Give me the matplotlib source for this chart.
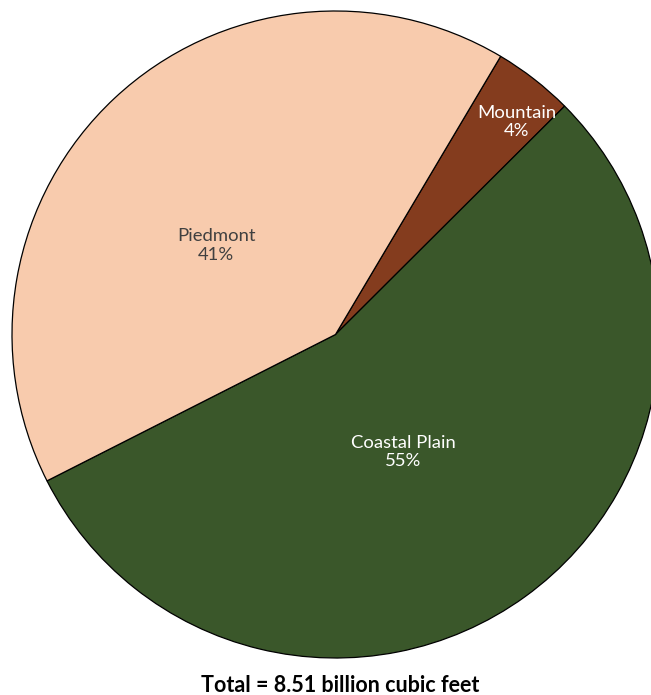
import matplotlib.pyplot as plt
import numpy as np

# regions and their share of the total
regions = ['Mountain', 'Coastal Plain', 'Piedmont']
shares = [4, 55, 41]
colors = ['#843C1E', '#3A572A', '#F8CBAD']
text_colors = ['white', 'white', '#404040']

# where each label sits, as (angle in degrees, fraction of radius)
label_spots = [(49.5, 0.864), (-60.1, 0.419), (143.2, 0.46)]

fig = plt.figure(figsize=(6.51, 6.95), dpi=100)
ax = fig.add_axes([12 / 651, 37 / 695, 647 / 651, 647 / 695])

ax.pie(shares, colors=colors, startangle=59.3, counterclock=False,
       radius=1, wedgeprops={'edgecolor': 'black', 'linewidth': 0.9})
ax.set_xlim(-1, 1)
ax.set_ylim(-1, 1)
ax.set_aspect('equal')
ax.axis('off')

for name, val, tc, (ang, r) in zip(regions, shares, text_colors, label_spots):
    a = np.radians(ang)
    ax.text(r * np.cos(a), r * np.sin(a), f'{name}\n{val}%', ha='center', va='center',
            color=tc, fontsize=13.3, family='Lato', linespacing=1.2)

fig.text(340 / 651, 1 - 686 / 695, 'Total = 8.51 billion cubic feet', ha='center', va='center',
         fontsize=15.5, fontweight='bold', family='Lato')

plt.savefig('out.png', dpi=100)
